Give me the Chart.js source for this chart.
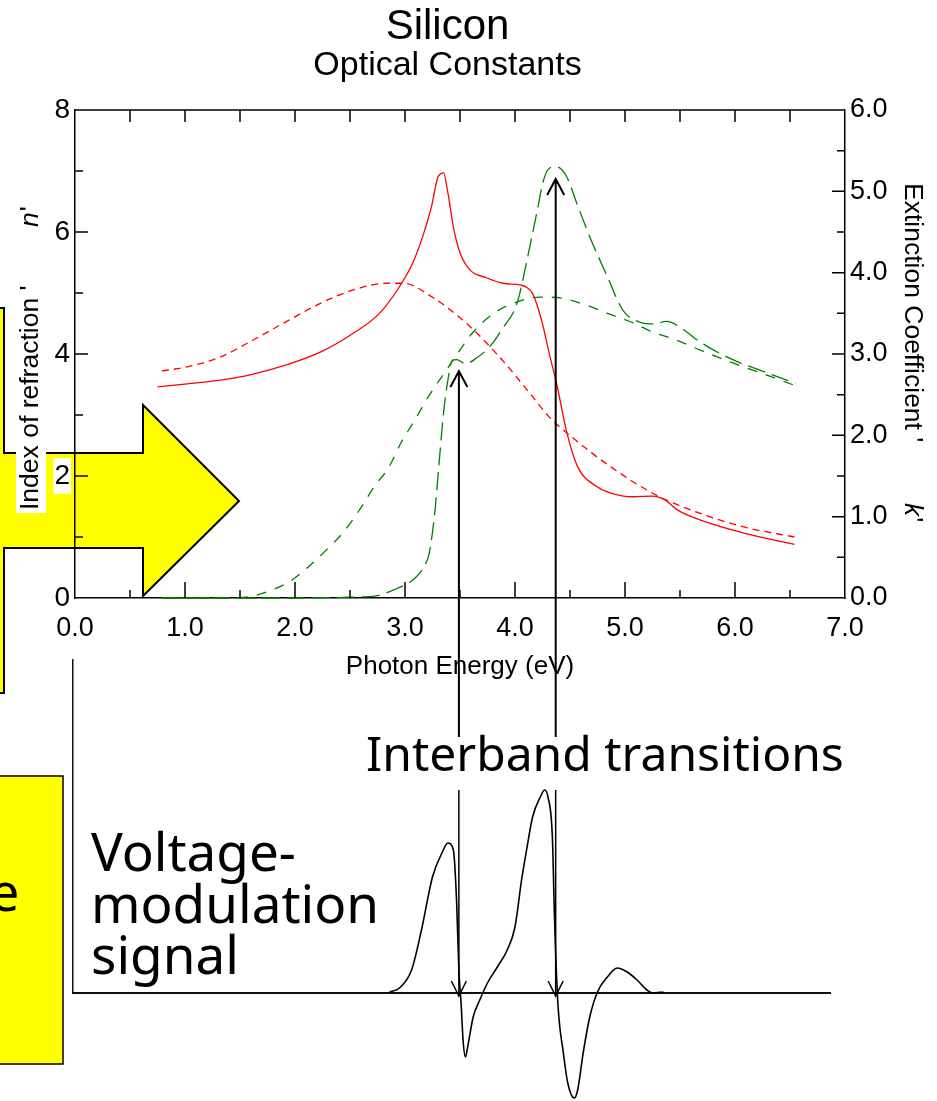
<!DOCTYPE html>
<html>
<head>
<meta charset="utf-8">
<script src="https://cdn.jsdelivr.net/npm/chart.js@4.4.1/dist/chart.umd.min.js"></script>
<style>
  html, body { margin: 0; padding: 0; background: #fff; }
  #page { position: relative; width: 937px; height: 1101px; overflow: hidden; }
  #shapes { position: absolute; left: 0; top: 0; }
  #top { position: absolute; left: 0; top: 0; }
  #bottom { position: absolute; left: 0; top: 640px; }
  .note { position: absolute; font-family: 'Noto Sans', sans-serif; color: #000; white-space: nowrap; }
</style>
</head>
<body>
<div id="page">
  <svg id="shapes" width="937" height="1101">
    <polygon points="-3,308 4,308 4,453 143,453 143,405 239,501 143,596 143,548 4,548 4,693 -3,693"
             fill="#ffff00" stroke="#000" stroke-width="2"/>
    <rect x="-3" y="776" width="66" height="288" fill="#ffff00" stroke="#000" stroke-width="1.5"/>
  </svg>
  <div class="note" style="left:-10px; top:865px; font-size:52px; line-height:52px;">e</div>
  <canvas id="top" width="937" height="760"></canvas>
  <canvas id="bottom" width="937" height="461"></canvas>
  <div class="note" style="left:366px; top:729px; font-size:48px; line-height:48px;">Interband transitions</div>
  <div class="note" style="left:91px; top:825px; font-size:53px; line-height:51.5px;">Voltage-<br>modulation<br>signal</div>
</div>

<script>
// tick values and labels
const xTicks = [0, 1, 2, 3, 4, 5, 6, 7];
const xTickLabels = ["0.0", "1.0", "2.0", "3.0", "4.0", "5.0", "6.0", "7.0"];
const nTicks = [0, 2, 4, 6, 8];
const nTickLabels = ["0", "2", "4", "6", "8"];
const kTicks = [0, 1, 2, 3, 4, 5, 6];
const kTickLabels = ["0.0", "1.0", "2.0", "3.0", "4.0", "5.0", "6.0"];

// refractive index n, sharp curve (solid red)
const nCrystE = [0.75,1.02,1.32,1.62,1.92,2.23,2.53,2.77,2.97,3.07,3.16,3.24,3.30,3.35,3.39,3.44,3.50,3.59,3.74,3.89,4.05,4.10,4.16,4.21,4.26,4.31,4.38,4.47,4.57,4.75,4.87,5.07,5.25,5.36,5.48,5.68,6.09,6.54];
const nCryst  = [3.46,3.51,3.57,3.67,3.82,4.03,4.34,4.67,5.16,5.49,5.92,6.41,6.90,6.97,6.64,6.08,5.66,5.38,5.25,5.16,5.13,5.10,4.99,4.75,4.42,4.02,3.50,2.72,2.15,1.82,1.72,1.66,1.67,1.61,1.44,1.28,1.06,0.88];

// refractive index n, broad curve (dashed red)
const nAmorE = [0.79,1.02,1.32,1.62,1.92,2.23,2.53,2.83,2.98,3.25,3.56,3.86,4.16,4.31,4.55,4.87,5.28,5.68,6.09,6.54];
const nAmor  = [3.72,3.79,3.95,4.23,4.53,4.83,5.05,5.16,5.16,4.93,4.50,3.95,3.30,2.97,2.59,2.15,1.69,1.39,1.16,1.00];

// extinction coefficient k, sharp curve (long dash green)
const kCrystE = [0.79,1.50,2.00,2.50,2.75,2.93,3.05,3.11,3.18,3.22,3.27,3.31,3.35,3.39,3.43,3.47,3.55,3.65,3.77,3.89,4.02,4.11,4.20,4.26,4.32,4.38,4.47,4.56,4.68,4.84,4.98,5.14,5.26,5.38,5.50,5.68,5.98,6.29,6.55];
const kCryst  = [0.00,0.00,0.00,0.01,0.03,0.12,0.20,0.27,0.40,0.55,1.04,1.66,2.27,2.68,2.92,2.93,2.88,2.95,3.09,3.32,3.63,4.16,4.75,5.14,5.29,5.30,5.18,4.86,4.44,3.95,3.54,3.39,3.37,3.40,3.33,3.15,2.93,2.77,2.64];

// extinction coefficient k, broad curve (dashed green)
const kAmorE = [0.79,1.40,1.60,1.71,1.95,2.11,2.27,2.44,2.60,2.72,2.85,2.96,3.09,3.21,3.36,3.50,3.62,3.83,4.02,4.23,4.41,4.65,4.84,5.08,5.25,5.47,5.68,5.98,6.29,6.55];
const kAmor  = [0.00,0.00,0.02,0.06,0.20,0.37,0.57,0.81,1.11,1.37,1.60,1.90,2.19,2.47,2.77,3.05,3.27,3.52,3.64,3.70,3.69,3.60,3.50,3.38,3.27,3.17,3.05,2.89,2.74,2.61];

// voltage modulation signal (arbitrary units)
const signalE = [2.86,2.95,3.06,3.15,3.25,3.34,3.39,3.44,3.47,3.49,3.51,3.53,3.55,3.57,3.62,3.68,3.75,3.84,3.93,4.00,4.06,4.11,4.16,4.23,4.27,4.30,4.34,4.36,4.39,4.44,4.48,4.54,4.57,4.62,4.68,4.75,4.84,4.93,5.02,5.11,5.20,5.25,5.35];
const signal  = [0.01,0.05,0.23,0.63,1.16,1.41,1.50,1.43,0.90,0.23,-0.10,-0.50,-0.64,-0.54,-0.24,-0.07,0.10,0.26,0.43,0.66,1.13,1.46,1.76,1.96,2.03,1.96,1.56,0.73,-0.10,-0.60,-0.90,-1.05,-0.97,-0.60,-0.24,0.01,0.16,0.25,0.21,0.13,0.03,0.00,0.01];

// interband transitions
const arrowE = [3.49, 4.37];
const arrowTipN = [3.72, 6.87];

const pairs = (xs, ys) => xs.map((x, i) => ({ x: x, y: ys[i] }));

Chart.defaults.font.family = "'Liberation Sans', Arial, sans-serif";
Chart.defaults.color = "#000";

// inner tick marks and top frame line
const innerTicks = {
  id: "innerTicks",
  afterDraw(chart) {
    const { ctx, chartArea: a, scales: { x, yN, yK } } = chart;
    ctx.save();
    ctx.strokeStyle = "#000";
    ctx.lineWidth = 1.5;
    ctx.beginPath();
    ctx.moveTo(a.left, a.top);
    ctx.lineTo(a.right, a.top);
    for (let v = 0.5; v < 7; v += 0.5) {
      const px = x.getPixelForValue(v);
      ctx.moveTo(px, a.top);
      ctx.lineTo(px, a.top + 12);
      const len = Number.isInteger(v) ? 16 : 8;
      ctx.moveTo(px, a.bottom);
      ctx.lineTo(px, a.bottom - len);
    }
    for (let v = 1; v < 8; v++) {
      const py = yN.getPixelForValue(v);
      ctx.moveTo(a.left, py);
      ctx.lineTo(a.left + (v % 2 === 0 ? 13 : 8), py);
    }
    for (let v = 0.5; v < 6; v += 0.5) {
      const py = yK.getPixelForValue(v);
      ctx.moveTo(a.right, py);
      ctx.lineTo(a.right - (Number.isInteger(v) ? 13 : 8), py);
    }
    ctx.stroke();
    ctx.restore();
  }
};

// rotated axis titles with italic symbols
const axisTitles = {
  id: "axisTitles",
  afterDraw(chart) {
    const { ctx } = chart;
    const f = "26.5px 'Liberation Sans', Arial, sans-serif";
    const fi = "italic 26.5px 'Liberation Sans', Arial, sans-serif";
    ctx.save();
    ctx.textBaseline = "middle";
    ctx.textAlign = "left";

    ctx.save();
    ctx.translate(31, 510);
    ctx.rotate(-Math.PI / 2);
    ctx.font = f;
    const t1 = "Index of refraction '";
    const w1 = ctx.measureText(t1).width;
    ctx.fillStyle = "#fff";
    ctx.fillRect(-3, -15, w1 + 6, 30);
    ctx.fillStyle = "#000";
    ctx.fillText(t1, 0, 0);
    ctx.font = fi;
    ctx.fillText("n", 283, 0);
    const wn = ctx.measureText("n").width;
    ctx.font = f;
    ctx.fillText("'", 283 + wn + 1, 0);
    ctx.restore();

    ctx.save();
    ctx.translate(912, 183);
    ctx.rotate(Math.PI / 2);
    ctx.font = f;
    ctx.fillText("Extinction Coefficient '", 0, 0);
    ctx.font = fi;
    ctx.fillText("k", 320, 0);
    const wk = ctx.measureText("k").width;
    ctx.font = f;
    ctx.fillText("'", 320 + wk + 1, 0);
    ctx.restore();

    ctx.restore();
  }
};

// upward arrows pointing at the transitions
const arrowsUp = {
  id: "arrowsUp",
  afterDatasetsDraw(chart) {
    const { ctx, scales: { x, yN } } = chart;
    ctx.save();
    ctx.strokeStyle = "#000";
    ctx.lineWidth = 2;
    arrowE.forEach((e, i) => {
      const px = x.getPixelForValue(e);
      const tip = yN.getPixelForValue(arrowTipN[i]);
      ctx.beginPath();
      ctx.moveTo(px, 737);
      ctx.lineTo(px, tip);
      ctx.moveTo(px - 8.5, tip + 16);
      ctx.lineTo(px, tip);
      ctx.lineTo(px + 8.5, tip + 16);
      ctx.stroke();
    });
    ctx.restore();
  }
};

new Chart(document.getElementById("top"), {
  type: "line",
  data: {
    datasets: [
      { data: pairs(nCrystE, nCryst), yAxisID: "yN", borderColor: "#ff0000", borderWidth: 1.3 },
      { data: pairs(nAmorE, nAmor), yAxisID: "yN", borderColor: "#ff0000", borderWidth: 1.3, borderDash: [7, 5] },
      { data: pairs(kCrystE, kCryst), yAxisID: "yK", borderColor: "#008000", borderWidth: 1.3, borderDash: [18, 7] },
      { data: pairs(kAmorE, kAmor), yAxisID: "yK", borderColor: "#008000", borderWidth: 1.3, borderDash: [10, 9] }
    ]
  },
  options: {
    responsive: false,
    animation: false,
    clip: 3,
    layout: { padding: { left: 0, right: 42, top: 0, bottom: 0 } },
    elements: { point: { radius: 0 }, line: { cubicInterpolationMode: "monotone" } },
    plugins: {
      legend: { display: false },
      tooltip: { enabled: false },
      title: {
        display: true, text: "Silicon",
        font: { size: 42, weight: "normal", lineHeight: 1 },
        padding: { top: 6.5, bottom: 0 }
      },
      subtitle: {
        display: true, text: "Optical Constants",
        font: { size: 34, weight: "normal", lineHeight: 1 },
        padding: { top: 0, bottom: 27.5 }
      }
    },
    scales: {
      x: {
        type: "linear", position: "bottom", min: 0, max: 7,
        grid: { display: false, drawTicks: false },
        border: { display: true, color: "#000", width: 1.5 },
        afterBuildTicks: s => { s.ticks = xTicks.map(v => ({ value: v })); },
        afterFit: s => { s.height = 162; },
        ticks: { callback: (v, i) => xTickLabels[i], padding: 14, font: { size: 27 }, maxRotation: 0, autoSkip: false },
        title: { display: true, text: "Photon Energy (eV)", font: { size: 26 }, padding: { top: 0, bottom: 78 } }
      },
      yN: {
        type: "linear", position: "left", min: 0, max: 8,
        grid: { display: false, drawTicks: false },
        border: { display: true, color: "#000", width: 1.5 },
        afterBuildTicks: s => { s.ticks = nTicks.map(v => ({ value: v })); },
        afterFit: s => { s.width = 75; },
        ticks: {
          callback: (v, i) => nTickLabels[i], padding: 5, font: { size: 28 },
          showLabelBackdrop: true, backdropColor: "#fff", backdropPadding: 1
        }
      },
      yK: {
        type: "linear", position: "right", min: 0, max: 6,
        grid: { display: false, drawTicks: false },
        border: { display: true, color: "#000", width: 1.5 },
        afterBuildTicks: s => { s.ticks = kTicks.map(v => ({ value: v })); },
        afterFit: s => { s.width = 50; },
        ticks: { callback: (v, i) => kTickLabels[i], padding: 5, font: { size: 27 } }
      }
    }
  },
  plugins: [innerTicks, axisTitles, arrowsUp]
});

// downward arrows onto the signal baseline
const arrowsDown = {
  id: "arrowsDown",
  afterDatasetsDraw(chart) {
    const { ctx, scales: { x, y } } = chart;
    ctx.save();
    ctx.strokeStyle = "#000";
    ctx.lineWidth = 1.5;
    arrowE.forEach(e => {
      const px = x.getPixelForValue(e);
      const tip = y.getPixelForValue(0) + 3;
      ctx.beginPath();
      ctx.moveTo(px, 150);
      ctx.lineTo(px, tip);
      ctx.moveTo(px - 7.5, tip - 15);
      ctx.lineTo(px, tip);
      ctx.lineTo(px + 7.5, tip - 15);
      ctx.stroke();
    });
    ctx.restore();
  }
};

new Chart(document.getElementById("bottom"), {
  type: "line",
  data: {
    datasets: [
      { data: pairs(signalE, signal), borderColor: "#000", borderWidth: 1.6, clip: false }
    ]
  },
  options: {
    responsive: false,
    animation: false,
    layout: { padding: { left: 73, right: 107, top: 20, bottom: 108 } },
    elements: { point: { radius: 0 }, line: { cubicInterpolationMode: "monotone" } },
    plugins: { legend: { display: false }, tooltip: { enabled: false } },
    scales: {
      x: {
        type: "linear", min: -0.018, max: 6.864,
        grid: { display: false, drawTicks: false },
        ticks: { display: false },
        border: { display: true, color: "#111", width: 2 },
        afterFit: s => { s.height = 0; }
      },
      y: {
        type: "linear", min: 0, max: 3.33,
        grid: { display: false, drawTicks: false },
        ticks: { display: false },
        border: { display: true, color: "#111", width: 1.5 },
        afterFit: s => { s.width = 0; }
      }
    }
  },
  plugins: [arrowsDown]
});
</script>
</body>
</html>
